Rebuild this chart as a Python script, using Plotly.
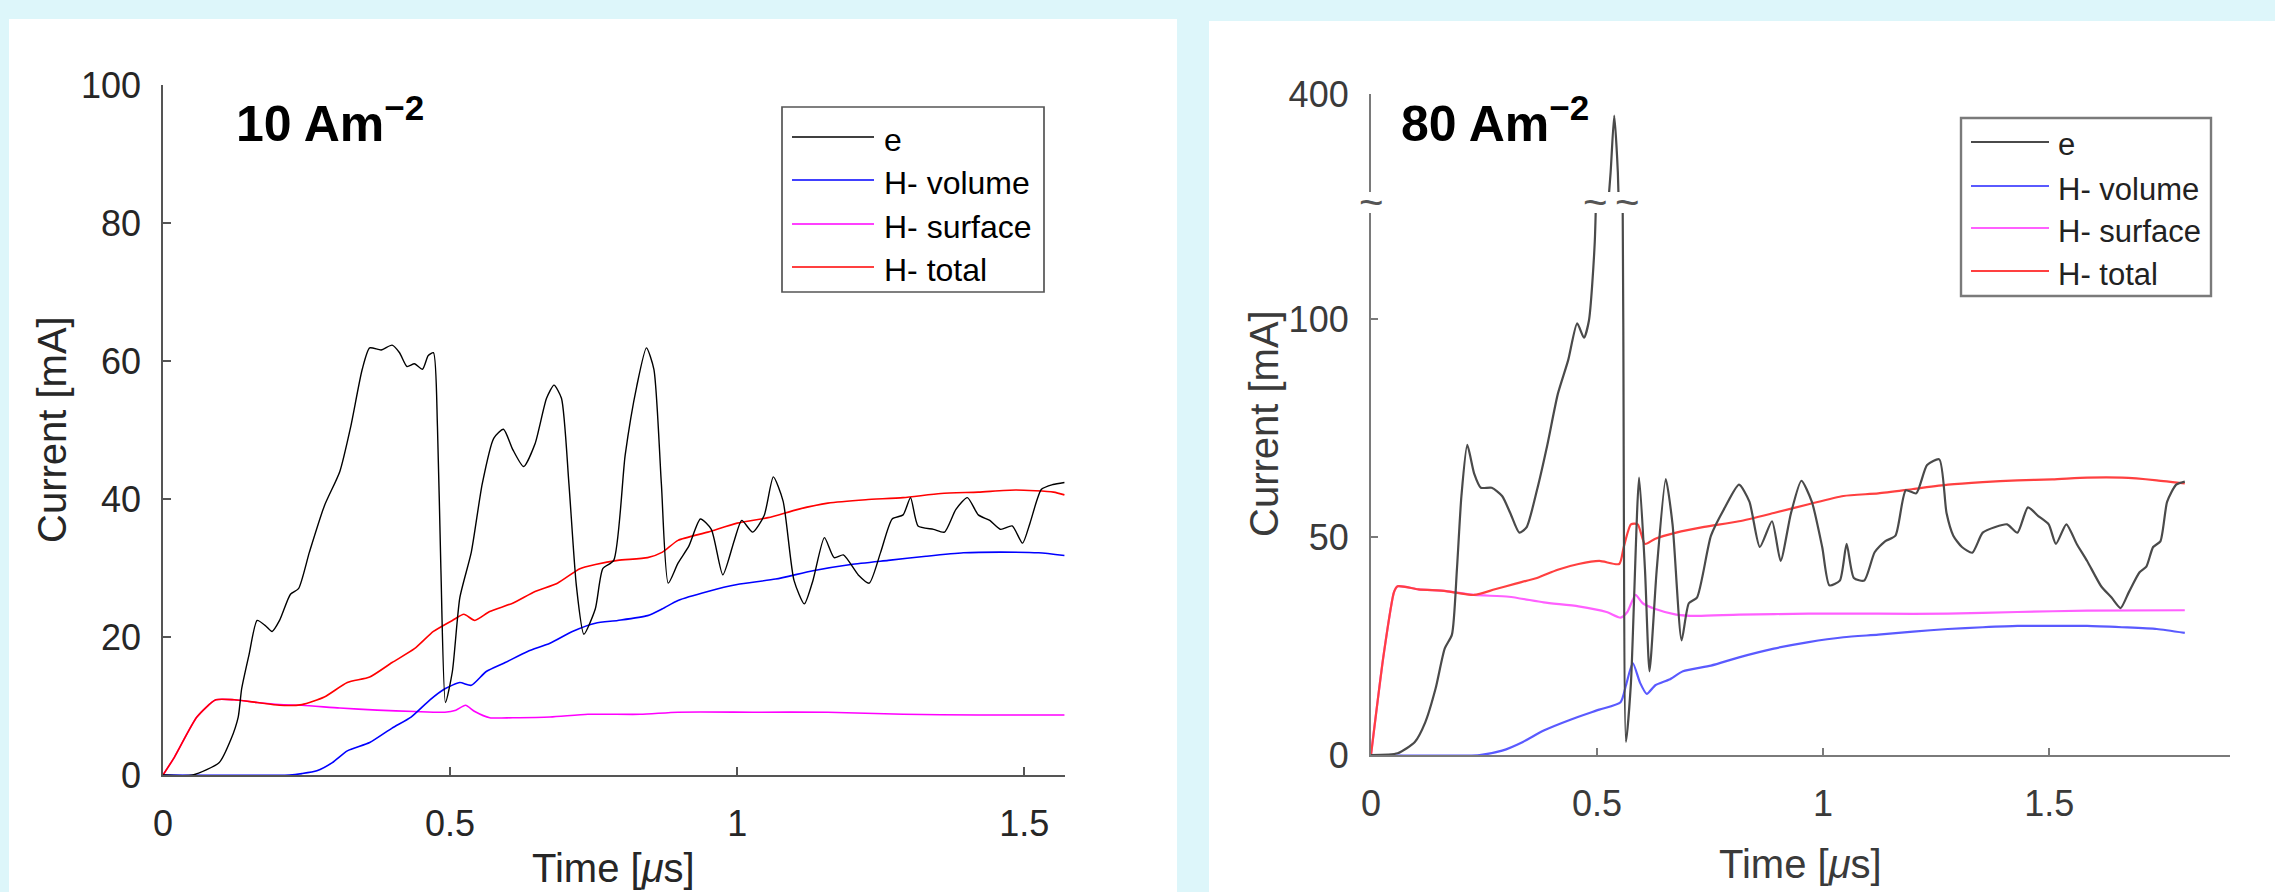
import plotly.graph_objects as go

W, H = 2275, 892

# ---------------- Left panel: 10 A m^-2 ----------------
t10_e = [0, 0.052, 0.098, 0.118, 0.131, 0.137, 0.15, 0.164, 0.179, 0.19, 0.203, 0.222, 0.236, 0.255, 0.281,
         0.308, 0.327, 0.347, 0.36, 0.38, 0.399, 0.412, 0.425, 0.438, 0.452, 0.462, 0.471, 0.478, 0.484, 0.492,
         0.504, 0.517, 0.537, 0.556, 0.576, 0.593, 0.609, 0.628, 0.648, 0.668, 0.681, 0.694, 0.707, 0.72, 0.733,
         0.753, 0.766, 0.785, 0.805, 0.825, 0.842, 0.855, 0.868, 0.88, 0.897, 0.916, 0.936, 0.955, 0.975, 0.995,
         1.008, 1.027, 1.047, 1.063, 1.08, 1.099, 1.117, 1.132, 1.152, 1.169, 1.185, 1.211, 1.23, 1.25, 1.27,
         1.289, 1.302, 1.315, 1.342, 1.361, 1.381, 1.401, 1.42, 1.44, 1.459, 1.479, 1.497, 1.51, 1.53, 1.55, 1.57]
i10_e = [0, 0, 1.8, 5.1, 8.4, 12.5, 17.5, 22.4, 21.6, 20.8, 22.4, 26.2, 27, 32.3, 39,
         44, 50.5, 58.8, 61.9, 61.6, 62.3, 61.2, 59.2, 59.6, 58.8, 60.8, 61.2, 50.5, 29.9, 10.5,
         15, 25.7, 32.3, 42.2, 48.8, 50.1, 47.2, 44.7, 48, 54.6, 56.5, 54.6, 42.2, 27.4, 20.4,
         24.1, 29.9, 31.1, 46.4, 56.3, 61.9, 58.8, 42.2, 27.8, 30.7, 33.2, 37.1, 35.6, 29, 34,
         36.9, 35.2, 37.6, 43.2, 39.7, 28.2, 24.8, 28.2, 34.4, 31.5, 31.9, 29, 27.8, 32.3, 37.1,
         37.7, 40.2, 36.1, 35.6, 35.2, 38.5, 40.2, 37.7, 36.9, 35.6, 36.1, 33.6, 36.5, 41.4, 42.1, 42.4]

t10_tot = [0, 0.02, 0.059, 0.092, 0.124, 0.164, 0.203, 0.242, 0.281, 0.321, 0.36, 0.399, 0.438, 0.471, 0.504,
           0.524, 0.543, 0.569, 0.609, 0.648, 0.687, 0.726, 0.753, 0.792, 0.844, 0.87, 0.897, 0.949, 1.0, 1.054,
           1.106, 1.158, 1.224, 1.289, 1.355, 1.42, 1.485, 1.551, 1.57]
i10_tot = [0, 2.6, 8.4, 10.9, 10.9, 10.5, 10.1, 10.2, 11.3, 13.4, 14.2, 16.3, 18.3, 20.8, 22.4,
           23.3, 22.4, 23.7, 24.9, 26.6, 27.8, 29.9, 30.5, 31.1, 31.5, 32.3, 34, 35.2, 36.5, 37.3,
           38.5, 39.4, 39.9, 40.2, 40.8, 41, 41.3, 41, 40.6]

t10_vol = [0, 0.22, 0.242, 0.268, 0.295, 0.321, 0.36, 0.399, 0.432, 0.465, 0.491, 0.517, 0.537, 0.563, 0.596,
           0.635, 0.674, 0.713, 0.753, 0.792, 0.844, 0.87, 0.897, 0.949, 1.0, 1.067, 1.132, 1.198, 1.263, 1.329,
           1.394, 1.459, 1.525, 1.57]
i10_vol = [0, 0, 0.2, 0.6, 1.8, 3.5, 4.7, 6.8, 8.4, 10.9, 12.5, 13.4, 13, 15, 16.3,
           17.9, 19.1, 20.8, 22, 22.4, 23.1, 24.1, 25.3, 26.6, 27.6, 28.4, 29.6, 30.5, 31.1, 31.7,
           32.2, 32.3, 32.2, 31.8]

t10_sur = [0, 0.02, 0.059, 0.092, 0.124, 0.164, 0.203, 0.242, 0.308, 0.373, 0.438, 0.491, 0.51, 0.527, 0.543,
           0.569, 0.609, 0.674, 0.74, 0.831, 0.897, 1.027, 1.158, 1.289, 1.42, 1.57]
i10_sur = [0, 2.6, 8.4, 10.9, 10.9, 10.5, 10.2, 10.1, 9.7, 9.4, 9.2, 9.1, 9.4, 10.1, 9.2,
           8.3, 8.3, 8.4, 8.8, 8.8, 9.1, 9.1, 9.1, 8.8, 8.7, 8.7]

# ---------------- Right panel: 80 A m^-2 ----------------
t80_e = [0, 0.059, 0.097, 0.12, 0.143, 0.163, 0.179, 0.19, 0.2, 0.213, 0.228, 0.243, 0.267, 0.29, 0.308,
         0.328, 0.344, 0.367, 0.39, 0.413, 0.436, 0.456, 0.471, 0.482, 0.495, 0.51, 0.53, 0.538, 0.546, 0.553,
         0.558, 0.564, 0.575, 0.593, 0.606, 0.616, 0.632, 0.652, 0.667, 0.687, 0.703, 0.721, 0.752, 0.783, 0.814,
         0.837, 0.86, 0.887, 0.906, 0.929, 0.952, 0.975, 0.998, 1.014, 1.037, 1.052, 1.068, 1.091, 1.114, 1.137,
         1.16, 1.183, 1.206, 1.23, 1.257, 1.273, 1.288, 1.307, 1.33, 1.353, 1.381, 1.407, 1.43, 1.453, 1.476,
         1.499, 1.515, 1.538, 1.561, 1.584, 1.615, 1.638, 1.658, 1.676, 1.7, 1.715, 1.73, 1.746, 1.761, 1.781, 1.8]
i80_e = [0, 0.4, 3, 7.5, 15.3, 24.4, 27.6, 42.5, 59.4, 71.1, 64.6, 61.3, 61.3, 59.4, 55.5,
         51, 52.2, 60.7, 71.1, 82.7, 90.5, 99, 95.7, 99.6, 117.8, 200, 320, 378, 320, 200,
         100, 3, 16.6, 63.6, 42.5, 19.2, 42.5, 63.3, 52.9, 26.3, 34.8, 36.1, 50.3, 56.8, 62,
         58.1, 47.7, 53.6, 44.5, 55.5, 62.9, 58.1, 47.7, 38.9, 40, 48.4, 40.6, 40, 46.5, 49,
         50.3, 60.7, 60, 66.5, 67.8, 55.5, 50.3, 47.7, 46.4, 51, 52.3, 52.9, 51, 56.8, 54.8,
         52.9, 48.4, 52.9, 48.4, 44.5, 38.7, 36.1, 33.7, 37.3, 41.9, 43.2, 47.7, 49, 58.1, 62, 62.7]

t80_tot = [0, 0.028, 0.051, 0.059, 0.105, 0.166, 0.228, 0.274, 0.32, 0.367, 0.413, 0.459, 0.505, 0.549, 0.559,
           0.575, 0.59, 0.606, 0.629, 0.675, 0.737, 0.814, 0.891, 0.968, 1.045, 1.122, 1.199, 1.276, 1.353, 1.43,
           1.507, 1.584, 1.661, 1.738, 1.8]
i80_tot = [0, 23, 37.4, 38.7, 38, 37.6, 36.7, 38, 39.3, 40.6, 42.5, 43.8, 44.5, 43.8, 47.7,
           52.9, 52.9, 48.4, 49.6, 51, 52.3, 53.6, 55.5, 57.5, 59.4, 60, 61, 62, 62.6, 63,
           63.2, 63.6, 63.6, 63, 62.3]

t80_vol = [0, 0.24, 0.29, 0.336, 0.382, 0.444, 0.505, 0.552, 0.564, 0.579, 0.595, 0.61, 0.629, 0.66, 0.69,
           0.752, 0.814, 0.891, 0.968, 1.045, 1.122, 1.199, 1.276, 1.353, 1.43, 1.507, 1.584, 1.661, 1.738, 1.8]
i80_vol = [0, 0, 1, 3, 5.6, 8.2, 10.4, 12.1, 16, 21.1, 16.6, 14, 16, 17.3, 19.2,
           20.5, 22.4, 24.4, 25.9, 27, 27.6, 28.3, 28.9, 29.3, 29.6, 29.6, 29.6, 29.3, 28.9, 28]

t80_sur = [0, 0.028, 0.051, 0.059, 0.105, 0.166, 0.228, 0.305, 0.382, 0.459, 0.521, 0.552, 0.567, 0.585, 0.601,
           0.629, 0.675, 0.721, 0.814, 0.968, 1.122, 1.276, 1.43, 1.584, 1.8]
i80_sur = [0, 23, 37.4, 38.7, 38, 37.6, 36.7, 36.3, 35, 34.1, 32.8, 31.5, 32.8, 36.7, 34.8,
           33.5, 32.2, 31.9, 32.2, 32.4, 32.4, 32.4, 32.8, 33.1, 33.2]

series_names = ["e", "H- volume", "H- surface", "H- total"]
x_ticks = [0, 0.5, 1, 1.5]
x_ticktext = ["0", "0.5", "1", "1.5"]
y10_ticks = [0, 20, 40, 60, 80, 100]
y80_ticks_low = [0, 50, 100]
y80_ticks_high = [400]

BG = "#ddf6fa"
LEFT_COLORS = ["#000000", "#0000ff", "#ff00ff", "#ff0000"]
RIGHT_COLORS = ["#4a4a4a", "#5a5aff", "#ff60ff", "#ff4040"]
FONT = "Liberation Sans, Arial, sans-serif"


def fx(px):
    return px / W


def fy(py):
    return 1 - py / H


fig = go.Figure()

# left traces
left_data = [(t10_e, i10_e), (t10_vol, i10_vol), (t10_sur, i10_sur), (t10_tot, i10_tot)]
draw_order = [2, 1, 3, 0]
for k in draw_order:
    tx, iy = left_data[k]
    fig.add_trace(go.Scatter(x=tx, y=iy, mode="lines", name=series_names[k], showlegend=False,
                             line=dict(color=LEFT_COLORS[k], width=1.6 if k else 1.4,
                                       shape="spline", smoothing=0.6),
                             xaxis="x", yaxis="y", hoverinfo="skip"))

# right traces (lower part of the broken axis)
right_data = [(t80_e, i80_e), (t80_vol, i80_vol), (t80_sur, i80_sur), (t80_tot, i80_tot)]
for k in draw_order:
    tx, iy = right_data[k]
    fig.add_trace(go.Scatter(x=tx, y=iy, mode="lines", name=series_names[k], showlegend=False,
                             line=dict(color=RIGHT_COLORS[k], width=2.2, shape="spline", smoothing=0.6),
                             xaxis="x2", yaxis="y2", hoverinfo="skip"))
# right e trace in the upper part of the broken axis
fig.add_trace(go.Scatter(x=t80_e, y=i80_e, mode="lines", name="e", showlegend=False,
                         line=dict(color=RIGHT_COLORS[0], width=2.2, shape="spline", smoothing=0.6),
                         xaxis="x3", yaxis="y3", hoverinfo="skip"))

TICKFONT_L = dict(family=FONT, size=36, color="#262626")
TICKFONT_R = dict(family=FONT, size=36, color="#3a3a3a")

common_l = dict(showline=True, linecolor="#555555", linewidth=1.6, ticks="inside", ticklen=8,
                tickwidth=1.5, tickcolor="#555555", showgrid=False, zeroline=False, tickfont=TICKFONT_L)
common_r = dict(showline=True, linecolor="#7a7a7a", linewidth=2.2, ticks="inside", ticklen=7,
                tickwidth=2, tickcolor="#7a7a7a", showgrid=False, zeroline=False, tickfont=TICKFONT_R)

fig.update_layout(
    width=W, height=H,
    margin=dict(l=0, r=0, t=0, b=0, pad=0, autoexpand=False),
    paper_bgcolor=BG, plot_bgcolor="rgba(0,0,0,0)",
    showlegend=False,
    xaxis=dict(domain=[fx(163), fx(1065)], range=[0, 1.571], anchor="y",
               tickvals=x_ticks, ticktext=x_ticktext, ticklabelstandoff=16, **common_l),
    yaxis=dict(domain=[fy(775), fy(85)], range=[0, 100], anchor="x",
               tickvals=y10_ticks, ticklabelstandoff=13, **common_l),
    xaxis2=dict(domain=[fx(1371), fx(2230)], range=[0, 1.90], anchor="y2",
                tickvals=x_ticks, ticktext=x_ticktext, ticklabelstandoff=16, **common_r),
    yaxis2=dict(domain=[fy(755), fy(213)], range=[0, 124.3], anchor="x2",
                tickvals=y80_ticks_low, ticklabelstandoff=13, **common_r),
    xaxis3=dict(domain=[fx(1371), fx(2230)], range=[0, 1.90], anchor="y3", visible=False),
    yaxis3=dict(domain=[fy(192), fy(94)], range=[300, 400], anchor="x3",
                tickvals=y80_ticks_high, ticklabelstandoff=13, **common_r),
)

shapes = [
    dict(type="rect", xref="paper", yref="paper", x0=fx(9), x1=fx(1177), y0=fy(892), y1=fy(19),
         fillcolor="white", line=dict(width=0), layer="below"),
    dict(type="rect", xref="paper", yref="paper", x0=fx(1209), x1=fx(2275), y0=fy(892), y1=fy(21),
         fillcolor="white", line=dict(width=0), layer="below"),
]
annotations = []

TITLEFONT_L = dict(family=FONT, size=40, color="#262626")
TITLEFONT_R = dict(family=FONT, size=40, color="#3a3a3a")
annotations += [
    dict(text="Current [mA]", x=fx(52), y=fy(430), xref="paper", yref="paper", textangle=-90,
         showarrow=False, font=TITLEFONT_L, xanchor="center", yanchor="middle"),
    dict(text="Time [<i>μ</i>s]", x=fx(614), y=fy(868), xref="paper", yref="paper",
         showarrow=False, font=TITLEFONT_L, xanchor="center", yanchor="middle"),
    dict(text="Current [mA]", x=fx(1264), y=fy(424), xref="paper", yref="paper", textangle=-90,
         showarrow=False, font=TITLEFONT_R, xanchor="center", yanchor="middle"),
    dict(text="Time [<i>μ</i>s]", x=fx(1800), y=fy(864), xref="paper", yref="paper",
         showarrow=False, font=TITLEFONT_R, xanchor="center", yanchor="middle"),
    dict(text="<b>10 Am<sup>−2</sup></b>", x=fx(234), y=fy(120), xref="paper", yref="paper",
         showarrow=False, font=dict(family=FONT, size=50, color="black"),
         xanchor="left", yanchor="middle"),
    dict(text="<b>80 Am<sup>−2</sup></b>", x=fx(1399), y=fy(120), xref="paper", yref="paper",
         showarrow=False, font=dict(family=FONT, size=50, color="black"),
         xanchor="left", yanchor="middle"),
]

# axis-break squiggles on the right panel
for sx in [1371, 1595, 1627]:
    annotations.append(dict(text="~", x=fx(sx), y=fy(202), xref="paper", yref="paper", showarrow=False,
                            font=dict(family=FONT, size=42, color="#555555"),
                            xanchor="center", yanchor="middle"))


def add_legend(box, line_x, text_x, rows_y, colors, lw, border, fsize, fcolor):
    x0, y0, x1, y1 = box
    shapes.append(dict(type="rect", xref="paper", yref="paper", x0=fx(x0), x1=fx(x1), y0=fy(y1), y1=fy(y0),
                       fillcolor="white", line=dict(color=border, width=lw + 0.2)))
    for name, c, ry in zip(series_names, colors, rows_y):
        shapes.append(dict(type="line", xref="paper", yref="paper", x0=fx(line_x[0]), x1=fx(line_x[1]),
                           y0=fy(ry), y1=fy(ry), line=dict(color=c, width=lw)))
        annotations.append(dict(text=name, x=fx(text_x), y=fy(ry + 3), xref="paper", yref="paper",
                                showarrow=False, xanchor="left", yanchor="middle",
                                font=dict(family=FONT, size=fsize, color=fcolor)))


add_legend((782, 107, 1044, 292), (792, 874), 882, [137, 180, 224, 267], LEFT_COLORS, 1.5, "#555555", 32, "#000000")
add_legend((1961, 118, 2211, 296), (1971, 2049), 2056, [142, 186, 228, 271], RIGHT_COLORS, 2.2, "#7a7a7a", 31,
           "#222222")

fig.update_layout(shapes=shapes, annotations=annotations)
fig.write_html("out.html", config={"displayModeBar": False},
               post_script="document.body.style.margin='0';document.body.style.overflow='hidden';")
